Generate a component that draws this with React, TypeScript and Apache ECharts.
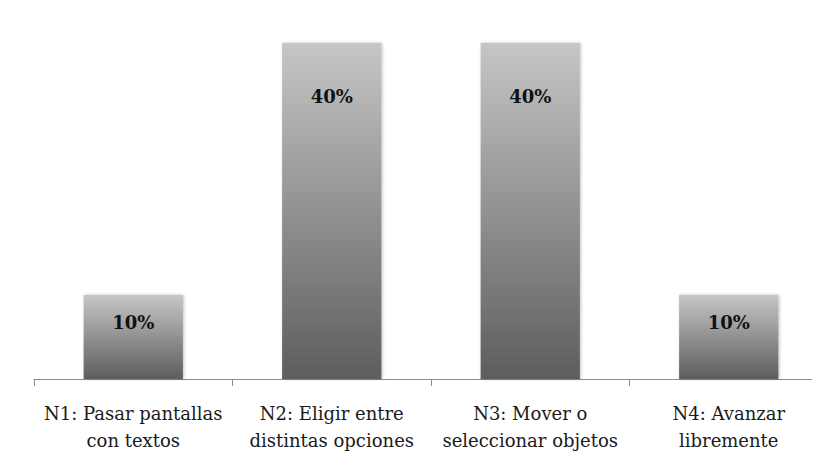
import React, { useEffect, useRef } from "react";
import * as echarts from "echarts";

const categories = [
  "N1: Pasar pantallas\ncon textos",
  "N2: Eligir entre\ndistintas opciones",
  "N3: Mover o\nseleccionar objetos",
  "N4: Avanzar\nlibremente",
];
const values = [10, 40, 40, 10];
const labelDistances = [18, 44, 44, 18];

const SERIF = "DejaVu Serif";

export default function App() {
  const ref = useRef<HTMLDivElement>(null);
  useEffect(() => {
    if (!ref.current) return;
    const chart = echarts.init(ref.current, undefined, { renderer: "svg" });
    const grad = new echarts.graphic.LinearGradient(0, 0, 0, 1, [
      { offset: 0, color: "#c6c6c6" },
      { offset: 1, color: "#5d5d5d" },
    ]);
    chart.setOption({
      animation: false,
      textStyle: { fontFamily: SERIF },
      grid: {
        left: 34,
        width: 794,
        top: 43,
        height: 336,
        outerBoundsMode: "none",
        containLabel: false,
      },
      xAxis: {
        type: "category",
        data: categories,
        boundaryGap: true,
        axisLine: { lineStyle: { color: "#8c8c8c", width: 1 } },
        axisTick: { show: true, length: 7, lineStyle: { color: "#8c8c8c" } },
        axisLabel: {
          interval: 0,
          margin: 21,
          fontFamily: SERIF,
          fontSize: 18,
          color: "#1a1a1a",
          lineHeight: 27,
        },
      },
      yAxis: {
        type: "value",
        min: 0,
        max: 40,
        show: false,
        splitLine: { show: false },
      },
      series: [
        {
          type: "bar",
          barWidth: "50%",
          data: values.map((v, i) => ({
            value: v,
            label: { distance: labelDistances[i] },
          })),
          itemStyle: {
            color: grad,
            shadowColor: "rgba(0,0,0,0.25)",
            shadowBlur: 3,
            shadowOffsetX: 1,
          },
          label: {
            show: true,
            position: "insideTop",
            formatter: "{c}%",
            fontFamily: SERIF,
            fontWeight: "bold",
            fontSize: 18,
            color: "#111",
          },
        },
      ],
    });
    return () => chart.dispose();
  }, []);
  return <div ref={ref} style={{ width: 820, height: 473, margin: -8 }} />;
}
